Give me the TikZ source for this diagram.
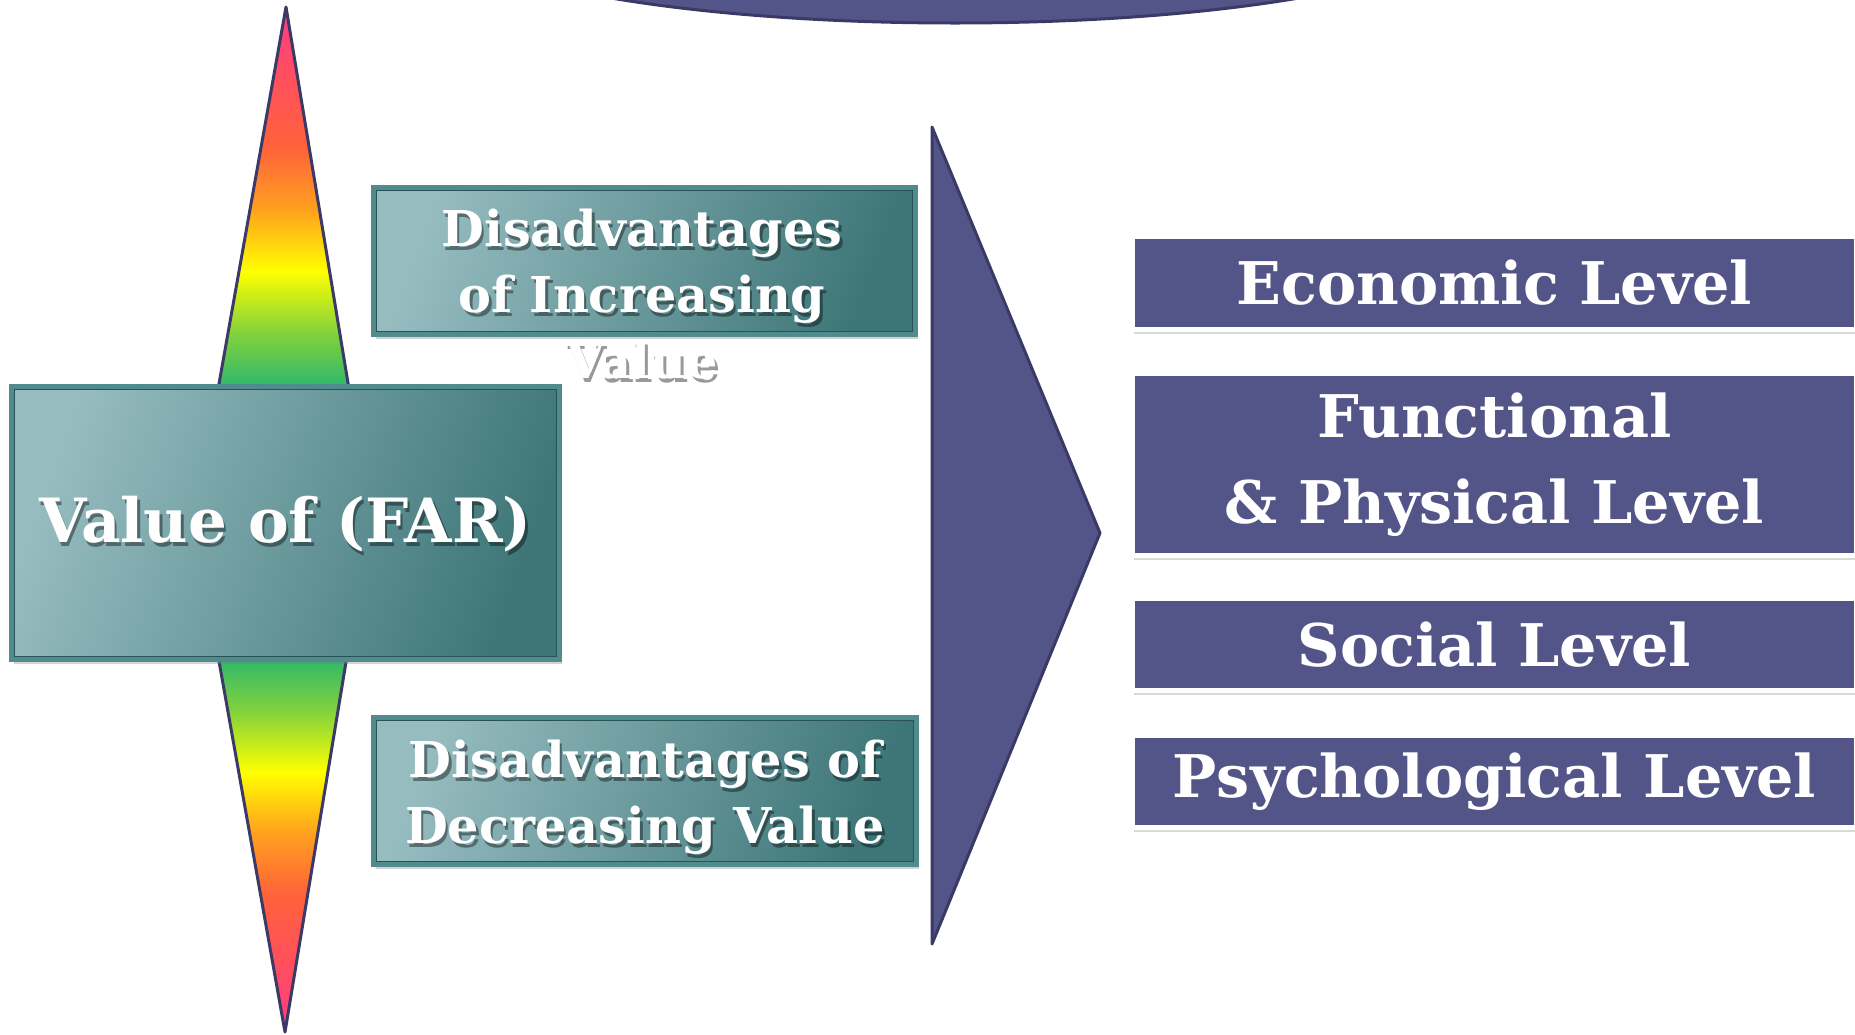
\documentclass[tikz,border=0pt]{standalone}
\usepackage{fontspec}
\setmainfont{DejaVu Serif}
\usetikzlibrary{shadows}

\definecolor{farpurple}{RGB}{83,84,136}
\definecolor{faredge}{RGB}{59,58,102}
\definecolor{teallight}{RGB}{150,188,192}
\definecolor{tealdark}{RGB}{62,118,120}
\definecolor{tealframe}{RGB}{80,140,142}
\definecolor{tealline}{RGB}{40,82,84}
\definecolor{specpink}{RGB}{255,60,130}
\definecolor{specred}{RGB}{255,98,58}
\definecolor{specorange}{RGB}{255,160,30}
\definecolor{specyellow}{RGB}{255,255,0}
\definecolor{speclime}{RGB}{130,210,60}
\definecolor{specgreen}{RGB}{35,180,115}

\pgfdeclareverticalshading{spectrum}{100bp}{color(0bp)=(specgreen); color(25bp)=(specgreen);
  color(33bp)=(speclime); color(41bp)=(specyellow); color(49bp)=(specorange);
  color(57bp)=(specred); color(75bp)=(specpink); color(100bp)=(specpink)}

\tikzset{
  tealbox/.style={draw=tealframe, line width=2.5pt, left color=teallight, right color=tealdark,
    shading angle=70,
    drop shadow={opacity=0.35, shadow xshift=1pt, shadow yshift=-2pt},
    path picture={\draw[tealline, line width=0.7pt]
      ([shift={(1.6pt,1.6pt)}]path picture bounding box.south west) rectangle
      ([shift={(-1.6pt,-1.6pt)}]path picture bounding box.north east);},
    inner sep=0pt},
  tealtext/.style={text=white, font=\bfseries\fontsize{24.7}{33}\selectfont, align=center, inner sep=0pt},
  textshade/.style={text=black, opacity=0.4},
  levelbox/.style={fill=farpurple, draw=white, line width=2.5pt,
    drop shadow={opacity=0.3, shadow xshift=0.6pt, shadow yshift=-2pt},
    text=white, font=\bfseries\fontsize{29.4}{43}\selectfont, align=center,
    minimum width=362pt, anchor=west, inner sep=0pt}
}

\begin{document}
\begin{tikzpicture}[x=0.5pt,y=-0.5pt]
  \clip (0,0) rectangle (1855,1034);

  % Value scale (two spikes)
  \shadedraw[shading=spectrum, draw=faredge, line width=1.5pt, line join=round]
    (286,7) -- (350,395) -- (217,395) -- cycle;
  \shadedraw[shading=spectrum, shading angle=180, draw=faredge, line width=1.5pt, line join=round]
    (217,650) -- (348,650) -- (285,1032) -- cycle;

  % Main box
  \node[tealbox, minimum width=274pt, minimum height=136.5pt] (farbox) at (285.5,523) {};
  \node[tealtext, textshade, font=\bfseries\fontsize{30.5}{42}\selectfont] (farshade) at (288,528) {Value of (FAR)};
  \node[tealtext, font=\bfseries\fontsize{30.5}{42}\selectfont] (fartext) at (285.5,524) {Value of (FAR)};

  % Disadvantages boxes
  \node[tealbox, minimum width=271pt, minimum height=73.5pt] (incbox) at (644.5,261) {};
  \node[tealtext, textshade] (incshade) at (644.5,298) {Disadvantages\\of Increasing\\Value};
  \node[tealtext] (inctext) at (642,294) {Disadvantages\\of Increasing\\Value};

  \node[tealbox, minimum width=271.5pt, minimum height=73.5pt] (decbox) at (645,791) {};
  \node[tealtext, textshade] (decshade) at (647.5,801) {Disadvantages of\\Decreasing Value};
  \node[tealtext] (dectext) at (645,797) {Disadvantages of\\Decreasing Value};

  % Big arrow
  \draw[fill=farpurple, draw=faredge, line width=1.5pt, line join=round]
    (932,127) -- (1100,533) -- (932,944) -- cycle;

  % Levels
  \node[levelbox, minimum height=46.5pt] (econ) at (1130,283) {Economic Level};
  \node[levelbox, minimum height=91pt] (func) at (1130,464.5) {Functional\\\& Physical Level};
  \node[levelbox, minimum height=46pt] (social) at (1130,644.5) {Social Level};
  \node[levelbox, minimum height=46pt] (psych) at (1130,781.5) {Psychological Level};

  % Top cap
  \draw[fill=farpurple, draw=faredge, line width=1.5pt] (955,-77) ellipse [x radius=520, y radius=100];

\end{tikzpicture}
\end{document}
